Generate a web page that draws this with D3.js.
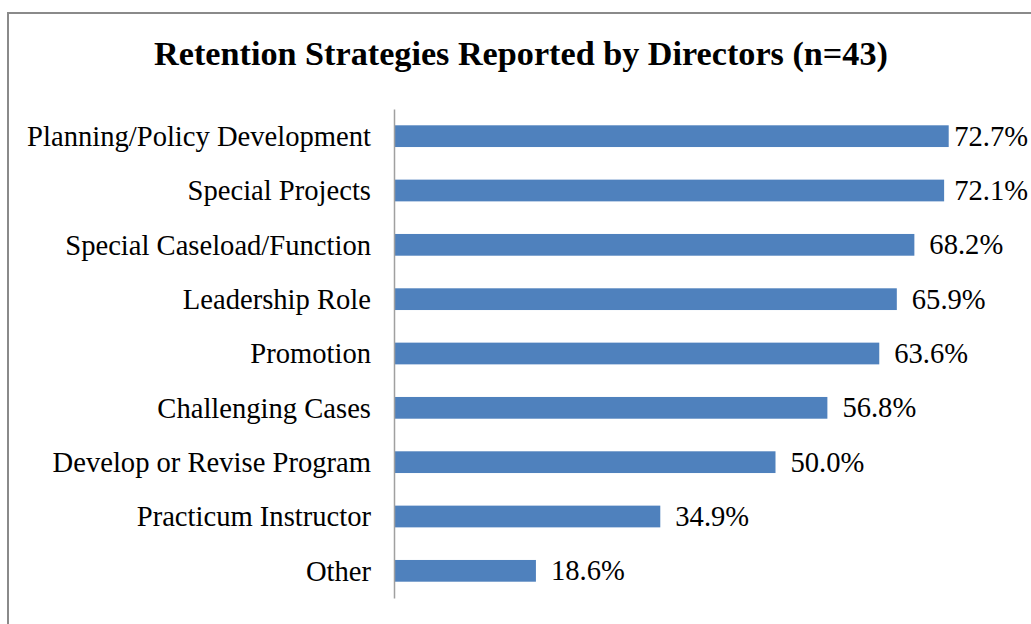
<!DOCTYPE html>
<html>
<head>
<meta charset="utf-8">
<script src="https://cdn.jsdelivr.net/npm/d3@7"></script>
<style>
  html, body { margin: 0; padding: 0; background: #fff; }
  svg { display: block; }
</style>
</head>
<body>
<svg id="chart" width="1031" height="624"></svg>
<script>
const categories = [
  "Planning/Policy Development",
  "Special Projects",
  "Special Caseload/Function",
  "Leadership Role",
  "Promotion",
  "Challenging Cases",
  "Develop or Revise Program",
  "Practicum Instructor",
  "Other"
];
const values = [72.7, 72.1, 68.2, 65.9, 63.6, 56.8, 50.0, 34.9, 18.6];
const title = "Retention Strategies Reported by Directors (n=43)";

const svg = d3.select("#chart");
const font = "'Liberation Serif', 'Times New Roman', serif";

// frame
svg.append("rect")
  .attr("x", 8).attr("y", 13)
  .attr("width", 1100).attr("height", 700)
  .attr("fill", "none")
  .attr("stroke", "#8a8a8a")
  .attr("stroke-width", 2);

const y = d3.scaleBand()
  .domain(categories)
  .range([109, 598])
  .paddingInner(0.6)
  .paddingOuter(0.3);

const x = d3.scaleLinear()
  .domain([0, 80])
  .range([394, 1004.4]);

// title
svg.append("text")
  .attr("x", 521).attr("y", 65)
  .attr("text-anchor", "middle")
  .attr("font-family", font)
  .attr("font-weight", "bold")
  .attr("font-size", "34.2px")
  .attr("fill", "#000")
  .text(title);

// bars
svg.selectAll("rect.bar")
  .data(values)
  .enter().append("rect")
  .attr("class", "bar")
  .attr("x", x(0))
  .attr("y", (d, i) => y(categories[i]))
  .attr("width", d => x(d) - x(0))
  .attr("height", y.bandwidth())
  .attr("fill", "#4f81bd");

// value labels (kept inside the chart area on the right)
const rightLimit = 1028;
svg.selectAll("text.val")
  .data(values)
  .enter().append("text")
  .attr("class", "val")
  .attr("y", (d, i) => y(categories[i]) + y.bandwidth() / 2 + 9.5)
  .attr("font-family", font)
  .attr("font-size", "28.6px")
  .attr("fill", "#000")
  .text(d => d.toFixed(1) + "%")
  .attr("x", function(d) {
    const w = this.getComputedTextLength();
    return Math.min(x(d) + 15, rightLimit - w);
  });

// category axis
const axis = d3.axisLeft(y).tickSize(0).tickPadding(23);
const g = svg.append("g")
  .attr("transform", `translate(${x(0)},0)`)
  .call(axis);
g.select(".domain")
  .attr("stroke", "#a0a0a0")
  .attr("stroke-width", 1.5);
g.selectAll(".tick text")
  .attr("font-family", font)
  .attr("font-size", "28.6px")
  .attr("fill", "#000")
  .attr("dy", "0.34em");
</script>
</body>
</html>
